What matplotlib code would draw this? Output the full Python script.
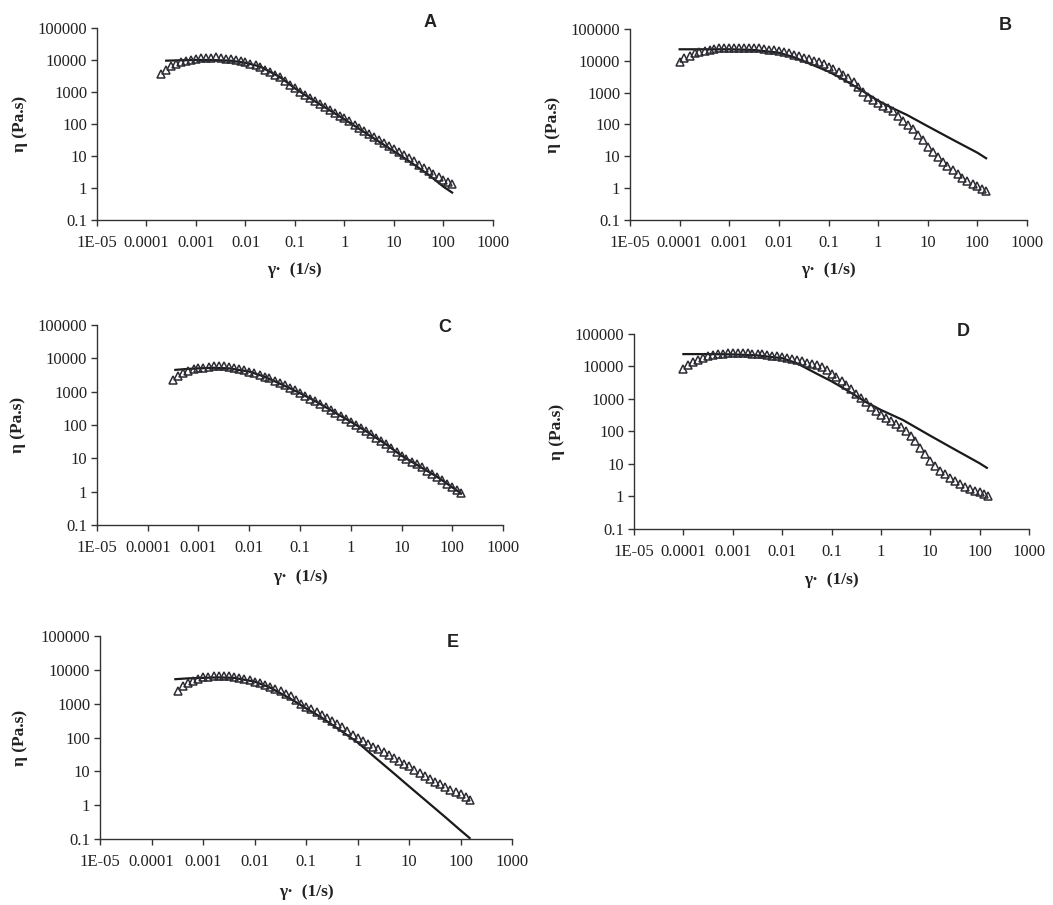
"""
Shear viscosity curves, five samples (A-E).
Open triangles = measured data, solid line = model fit.
"""

import matplotlib
matplotlib.use("Agg")
import matplotlib.pyplot as plt

# shear rate grid used for the measured points (1/s), 10 points per decade
gamma = [1e-4, 1.25e-4, 1.6e-4, 2e-4, 2.5e-4, 3.2e-4, 4e-4, 5e-4, 6.3e-4, 8e-4,
         1e-3, 1.25e-3, 1.6e-3, 2e-3, 2.5e-3, 3.2e-3, 4e-3, 5e-3, 6.3e-3, 8e-3,
         0.01, 0.0125, 0.016, 0.02, 0.025, 0.032, 0.04, 0.05, 0.063, 0.08,
         0.1, 0.125, 0.16, 0.2, 0.25, 0.32, 0.4, 0.5, 0.63, 0.8,
         1, 1.25, 1.6, 2, 2.5, 3.2, 4, 5, 6.3, 8,
         10, 12.5, 16, 20, 25, 32, 40, 50, 63, 80,
         100, 125, 150]

# measured viscosity (Pa.s); A starts at gamma[3], C and E at gamma[5]
eta_a = [3600, 4800, 6300, 7600, 8600, 9500, 10300,
         11000, 11300, 11600, 11900, 12000, 11600, 11000, 10500, 9800, 9200,
         8500, 7700, 6800, 5900, 5000, 4200, 3500, 2900, 2200, 1700,
         1300, 1000, 800, 650, 530, 420, 340, 270, 220, 180,
         150, 120, 92, 75, 60, 48, 39, 31, 25, 20,
         17, 13.5, 10.5, 8.5, 6.8, 5.4, 4.3, 3.5, 2.8, 2.2,
         1.8, 1.5, 1.3]
eta_b = [9500, 12000, 14500, 17000, 19000, 21000, 22500, 23500, 24500, 25500,
         26000, 26000, 26000, 26000, 25500, 25000, 24500, 23500, 22500, 21500,
         20000, 18500, 17000, 15500, 14000, 12500, 11300, 10000, 9000, 7800,
         6500, 5400, 4300, 3500, 2800, 2100, 1500, 1050, 750, 580,
         470, 390, 320, 260, 190, 125, 95, 70, 48, 32,
         20, 13.5, 9.3, 6.8, 5.0, 3.7, 2.8, 2.1, 1.7, 1.35,
         1.13, 0.95, 0.8]
eta_c = [2200, 3000, 3600, 4200, 4700,
         5000, 5300, 5600, 5800, 5800, 5700, 5500, 5200, 4800, 4400,
         4000, 3600, 3200, 2800, 2500, 2100, 1800, 1550, 1300, 1100,
         900, 750, 620, 520, 430, 340, 280, 230, 185, 150,
         125, 100, 80, 65, 53, 42, 33, 26, 20, 15,
         12, 9.8, 8, 6.6, 5.4, 4.2, 3.4, 2.8, 2.2, 1.7,
         1.35, 1.1, 0.9]
eta_d = [8500, 11000, 13500, 16000, 18500, 21000, 22500, 23500, 24500, 25500,
         26000, 26000, 26000, 25500, 25000, 24500, 23500, 22500, 21500, 20500,
         19500, 18000, 16500, 15500, 14500, 13000, 12000, 11000, 9500, 7800,
         6000, 4600, 3500, 2600, 2000, 1400, 1050, 780, 570, 430,
         330, 260, 210, 170, 140, 100, 72, 50, 32, 20,
         12, 8.5, 6.2, 4.8, 3.8, 2.9, 2.4, 2.0, 1.7, 1.5,
         1.35, 1.15, 1.0]
eta_e = [2400, 3300, 4000, 4700, 5400,
         6000, 6300, 6500, 6700, 6700, 6500, 6200, 5900, 5400, 5000,
         4500, 4000, 3600, 3200, 2800, 2400, 2000, 1650, 1300, 1000,
         820, 680, 560, 470, 390, 310, 250, 200, 155, 120,
         95, 77, 63, 54, 45, 37, 30, 25, 20, 17,
         14, 11, 9, 7.4, 6.0, 5.0, 4.1, 3.4, 2.9, 2.5,
         2.1, 1.7, 1.4]

# model curves
fit_a_x = [2.5e-4, 5e-4, 1e-3, 2e-3, 5e-3, 0.01, 0.02, 0.05, 0.1, 0.2, 0.5,
           1, 2, 5, 10, 20, 50, 100, 150]
fit_a_y = [9500, 9800, 10000, 10000, 9500, 8200, 6200, 2900, 1300, 640, 270,
           140, 70, 28, 14, 7, 2.6, 1.1, 0.72]
fit_b_x = [1e-4, 3e-4, 1e-3, 3e-3, 0.01, 0.02, 0.05, 0.1, 0.2, 0.5, 1, 2,
           3.8, 10, 30, 100, 150]
fit_b_y = [23000, 23000, 23000, 22000, 18000, 13000, 7200, 4600, 2600, 1100,
           560, 320, 200, 88, 35, 13, 8.7]
fit_c_x = [3.5e-4, 6e-4, 1e-3, 2e-3, 4e-3, 0.01, 0.02, 0.05, 0.1, 0.2, 0.5,
           1, 2, 5, 10, 20, 50, 100, 150]
fit_c_y = [4500, 4800, 5000, 5200, 5000, 4000, 2800, 1500, 900, 520, 230,
           125, 65, 26, 12, 6.4, 2.8, 1.35, 0.88]
fit_d_x = [1e-4, 3e-4, 1e-3, 3e-3, 0.01, 0.02, 0.05, 0.1, 0.2, 0.5, 1, 2.8,
           10, 30, 100, 140]
fit_d_y = [24000, 24000, 23500, 22000, 18000, 12500, 6000, 3500, 1900, 800,
           460, 225, 74, 29, 10.5, 7.6]
fit_e_x = [2.9e-4, 5e-4, 1e-3, 2e-3, 4e-3, 0.01, 0.02, 0.05, 0.1, 0.2, 0.5,
           1, 2, 5, 10, 20, 50, 100, 150]
fit_e_y = [5300, 5600, 5800, 6000, 5800, 4500, 3000, 1400, 730, 390, 150,
           72, 29, 8.9, 3.6, 1.47, 0.45, 0.18, 0.107]

x_ticks = [1e-5, 1e-4, 1e-3, 1e-2, 1e-1, 1, 10, 100, 1000]
x_tick_labels = ["1E-05", "0.0001", "0.001", "0.01", "0.1", "1", "10", "100", "1000"]
y_ticks = [0.1, 1, 10, 100, 1000, 10000, 100000]
y_tick_labels = ["0.1", "1", "10", "100", "1000", "10000", "100000"]

SERIF = "Liberation Serif"


def plot_panel(fig, rect, letter, letter_pos, x_tri, y_tri, x_fit, y_fit):
    ax = fig.add_axes(rect)
    ax.plot(x_fit, y_fit, color="#1a1a1a", lw=1.6, zorder=2)
    ax.plot(x_tri, y_tri, linestyle="none", marker="^", markersize=5.5,
            markerfacecolor="none", markeredgecolor="#2b2b33",
            markeredgewidth=1.1, zorder=3)

    ax.set_xscale("log")
    ax.set_yscale("log")
    ax.set_xlim(1e-5, 1000)
    ax.set_ylim(0.1, 100000)
    ax.set_xticks(x_ticks, x_tick_labels)
    ax.set_yticks(y_ticks, y_tick_labels)
    ax.minorticks_off()

    for side in ["top", "right"]:
        ax.spines[side].set_visible(False)
    for side in ["left", "bottom"]:
        ax.spines[side].set_color("#333333")
        ax.spines[side].set_linewidth(1.0)

    ax.tick_params(axis="both", direction="out", length=4, width=1.0,
                   color="#333333", labelcolor="#222222")
    ax.tick_params(axis="x", pad=7)
    ax.tick_params(axis="y", pad=3)
    for lab in ax.get_xticklabels() + ax.get_yticklabels():
        lab.set_fontfamily(SERIF)
        lab.set_fontsize(12)

    ax.set_ylabel("η (Pa.s)", fontfamily=SERIF, fontsize=12.5,
                  fontweight="bold", color="#222222")
    ax.yaxis.set_label_coords(-0.175, 0.5)
    ax.set_xlabel("γ·  (1/s)", fontfamily=SERIF, fontsize=12.5,
                  fontweight="bold", color="#222222")
    ax.xaxis.set_label_coords(0.5, -0.22)

    ax.text(letter_pos[0], letter_pos[1], letter, transform=ax.transAxes,
            fontfamily="Liberation Sans", fontsize=13, fontweight="bold",
            ha="center", va="center", color="#222222", clip_on=False)
    return ax


def main() -> None:
    fig = plt.figure(figsize=(10.53, 9.05), dpi=100)
    fig.patch.set_facecolor("white")

    plot_panel(fig, [0.0921, 0.7569, 0.376, 0.2122], "A", (0.84, 1.03),
               gamma[3:], eta_a, fit_a_x, fit_a_y)
    plot_panel(fig, [0.5983, 0.7569, 0.377, 0.2111], "B", (0.945, 1.02),
               gamma, eta_b, fit_b_x, fit_b_y)
    plot_panel(fig, [0.0921, 0.4199, 0.3856, 0.221], "C", (0.857, 0.985),
               gamma[5:], eta_c, fit_c_x, fit_c_y)
    plot_panel(fig, [0.6021, 0.4155, 0.3751, 0.2155], "D", (0.833, 1.015),
               gamma, eta_d, fit_d_x, fit_d_y)
    plot_panel(fig, [0.0950, 0.0729, 0.3913, 0.2243], "E", (0.857, 0.97),
               gamma[5:], eta_e, fit_e_x, fit_e_y)

    fig.savefig("out.png", dpi=100)


if __name__ == "__main__":
    main()
